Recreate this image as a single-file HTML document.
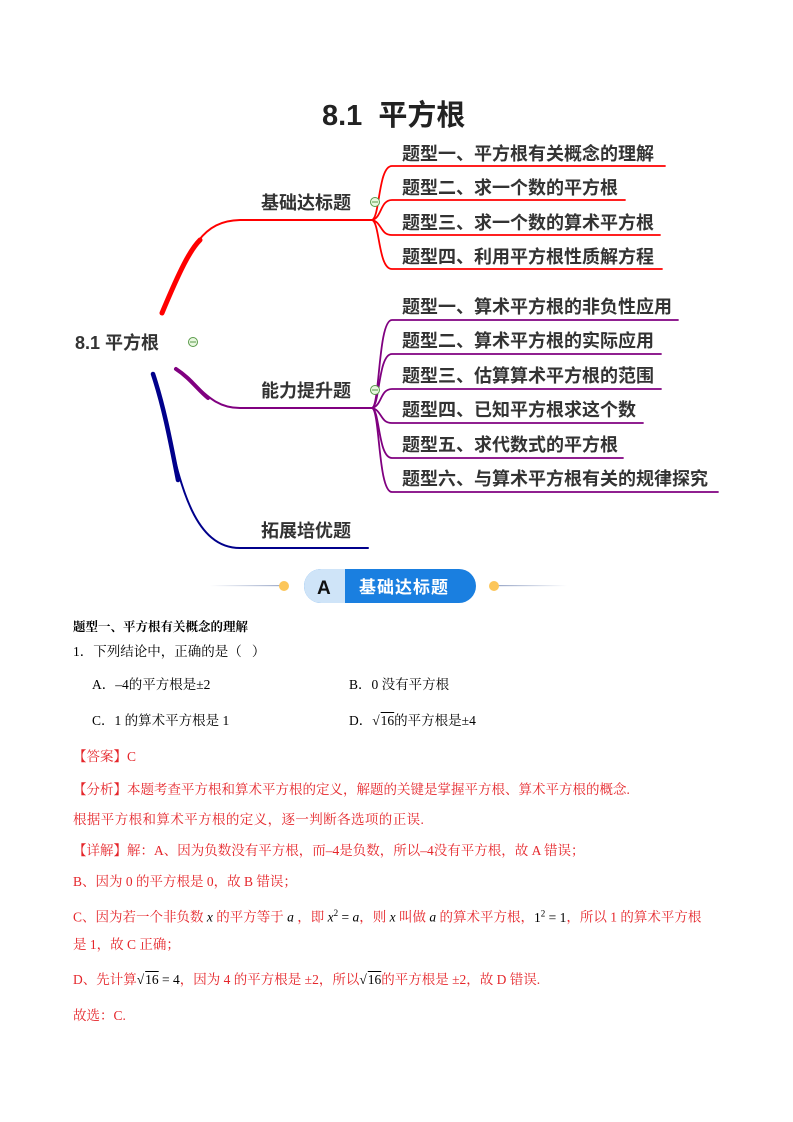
<!DOCTYPE html>
<html><head><meta charset="utf-8"><style>
body{margin:0;background:#fff;}
#p{position:relative;width:793px;height:1122px;overflow:hidden;font-family:"Liberation Serif","Noto Serif CJK SC",serif;}
.t{position:absolute;white-space:nowrap;font-size:13.5px;line-height:16px;color:#000;}
.r{color:#e5252a;}
.sq{text-decoration:overline;padding-left:1px;}
</style></head><body><div id="p">
<div class="t" style="left:322px;top:99px;font-size:29px;line-height:34px;font-weight:bold;font-family:'Liberation Sans','Noto Sans CJK SC',sans-serif;color:#222;">8.1&nbsp; 平方根</div>
<svg width="793" height="560" style="position:absolute;left:0;top:0" font-family="Liberation Sans, Noto Sans CJK SC, sans-serif">
<g fill="none" stroke-linecap="round">
<path d="M162,313 C190,250 200,221 240,220 L372,220" stroke="#f00" stroke-width="2"/>
<path d="M162,313 C180,270 190,250 200,240" stroke="#f00" stroke-width="5"/>
<g stroke="#f00" stroke-width="1.8">
<path d="M372,220 C380,218 378,166 392,166 L665,166"/>
<path d="M372,220 C382,218 380,200 392,200 L625,200"/>
<path d="M372,220 C382,222 380,235 392,235 L660,235"/>
<path d="M372,220 C380,222 378,269 392,269 L662,269"/>
</g>
<path d="M175,369 C200,385 210,408 240,408 L372,408" stroke="#800080" stroke-width="2"/>
<path d="M176,369 C190,378 198,390 208,398" stroke="#800080" stroke-width="4"/>
<g stroke="#800080" stroke-width="1.8">
<path d="M372,408 C380,406 378,320 392,320 L678,320"/>
<path d="M372,408 C380,406 378,354 392,354 L661,354"/>
<path d="M372,408 C382,406 380,389 392,389 L661,389"/>
<path d="M372,408 C382,410 380,423 392,423 L643,423"/>
<path d="M372,408 C380,410 378,458 392,458 L623,458"/>
<path d="M372,408 C380,410 378,492 392,492 L718,492"/>
</g>
<path d="M153,374 C175,440 180,548 240,548 L368,548" stroke="#00008b" stroke-width="2"/>
<path d="M153,374 C165,410 172,450 178,480" stroke="#00008b" stroke-width="4.5"/>
</g>
<g fill="#e8f8e0" stroke="#5a9a4a" stroke-width="1"><circle cx="375" cy="202" r="4.5"/><circle cx="193" cy="342" r="4.5"/><circle cx="375" cy="390" r="4.5"/></g>
<g stroke="#5a9a4a" stroke-width="1"><path d="M372,202h6M190,342h6M372,390h6"/></g>
<g font-size="18" font-weight="bold" fill="#333">
<text x="75" y="349">8.1 平方根</text>
<text x="261" y="209">基础达标题</text>
<text x="261" y="397">能力提升题</text>
<text x="261" y="537">拓展培优题</text>
<text x="402" y="160">题型一、平方根有关概念的理解</text>
<text x="402" y="194">题型二、求一个数的平方根</text>
<text x="402" y="229">题型三、求一个数的算术平方根</text>
<text x="402" y="263">题型四、利用平方根性质解方程</text>
<text x="402" y="313">题型一、算术平方根的非负性应用</text>
<text x="402" y="347">题型二、算术平方根的实际应用</text>
<text x="402" y="382">题型三、估算算术平方根的范围</text>
<text x="402" y="416">题型四、已知平方根求这个数</text>
<text x="402" y="451">题型五、求代数式的平方根</text>
<text x="402" y="485">题型六、与算术平方根有关的规律探究</text>
</g>
</svg>
<svg width="793" height="40" style="position:absolute;left:0;top:567px" font-family="Liberation Sans, Noto Sans CJK SC, sans-serif">
<defs><linearGradient id="gl"><stop offset="0" stop-color="#fff"/><stop offset="1" stop-color="#9aa8c8"/></linearGradient><linearGradient id="gr"><stop offset="0" stop-color="#9aa8c8"/><stop offset="1" stop-color="#fff"/></linearGradient></defs>
<rect x="210" y="18" width="75" height="1.2" fill="url(#gl)"/><rect x="497" y="18" width="70" height="1.2" fill="url(#gr)"/>
<circle cx="284" cy="19" r="5" fill="#fcc65a"/><circle cx="494" cy="19" r="5" fill="#fcc65a"/>
<rect x="304" y="2" width="172" height="34" rx="17" fill="#1a7fe0"/>
<path d="M321,2 H345 V36 H321 A17,17 0 0 1 321,2 Z" fill="#cfe4f8"/>
<text x="317" y="27" font-size="19" font-weight="bold" fill="#111">A</text>
<text x="359" y="26" font-size="17" font-weight="bold" fill="#fff" letter-spacing="1">基础达标题</text>
</svg>
<div class="t" style="left:73px;top:619px;font-weight:bold;font-size:12.5px;">题型一、平方根有关概念的理解</div>
<div class="t" style="left:73px;top:644px;">1．下列结论中，正确的是（&nbsp;&nbsp;&nbsp;）</div>
<div class="t" style="left:92px;top:677px;">A．–4的平方根是±2</div>
<div class="t" style="left:349px;top:677px;">B．0 没有平方根</div>
<div class="t" style="left:92px;top:713px;">C．1 的算术平方根是 1</div>
<div class="t" style="left:349px;top:713px;">D．√<span class="sq">16</span>的平方根是±4</div>
<div class="t r" style="left:73px;top:749px;">【答案】C</div>
<div class="t r" style="left:73px;top:782px;">【分析】本题考查平方根和算术平方根的定义，解题的关键是掌握平方根、算术平方根的概念.</div>
<div class="t r" style="left:73px;top:812px;letter-spacing:0.4px">根据平方根和算术平方根的定义，逐一判断各选项的正误.</div>
<div class="t r" style="left:73px;top:843px;">【详解】解：A、因为负数没有平方根，而–4是负数，所以–4没有平方根，故 A 错误；</div>
<div class="t r" style="left:73px;top:874px;">B、因为 0 的平方根是 0，故 B 错误；</div>
<div class="t r" style="left:73px;top:905px;">C、因为若一个非负数 <i style="color:#000">x</i> 的平方等于 <i style="color:#000">a</i> ，即 <i style="color:#000">x</i><sup style="color:#000;font-size:9px">2</sup><span style="color:#000"> = <i>a</i></span>，则 <i style="color:#000">x</i> 叫做 <i style="color:#000">a</i> 的算术平方根，<span style="color:#000">1<sup style="font-size:9px">2</sup> = 1</span>，所以 1 的算术平方根</div>
<div class="t r" style="left:73px;top:937px;">是 1，故 C 正确；</div>
<div class="t r" style="left:73px;top:972px;">D、先计算<span style="color:#000">√<span class="sq">16</span> = 4</span>，因为 4 的平方根是 ±2，所以<span style="color:#000">√<span class="sq">16</span></span>的平方根是 ±2，故 D 错误.</div>
<div class="t r" style="left:73px;top:1008px;">故选：C.</div>
</div></body></html>
